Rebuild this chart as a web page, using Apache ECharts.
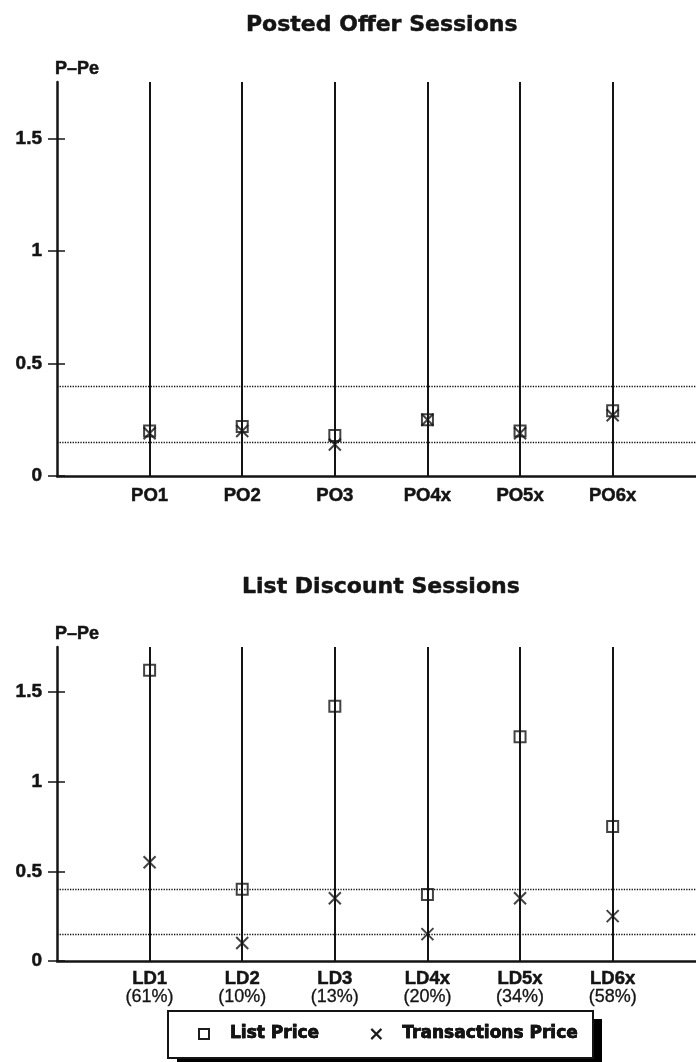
<!DOCTYPE html>
<html>
<head>
<meta charset="utf-8">
<script src="https://cdn.jsdelivr.net/npm/echarts@6/dist/echarts.min.js"></script>
<style>
html,body{margin:0;padding:0;background:#fff;}
#chart{width:696px;height:1062px;}
</style>
</head>
<body>
<div id="chart"></div>
<script>
// ---- data ----
var poCategories = ['PO1', 'PO2', 'PO3', 'PO4x', 'PO5x', 'PO6x'];
var poListPrice = [0.20, 0.22, 0.18, 0.25, 0.20, 0.29];
var poTransPrice = [0.19, 0.20, 0.14, 0.25, 0.19, 0.27];

var ldCategories = ['LD1', 'LD2', 'LD3', 'LD4x', 'LD5x', 'LD6x'];
var ldShares = ['61%', '10%', '13%', '20%', '34%', '58%'];
var ldListPrice = [1.62, 0.40, 1.42, 0.37, 1.25, 0.75];
var ldTransPrice = [0.55, 0.10, 0.35, 0.15, 0.35, 0.25];

var yTicks = [0, 0.5, 1, 1.5];
var yMax = 1.75;
var refLines = [0.15, 0.4];
var titles = ['Posted Offer Sessions', 'List Discount Sessions'];
var yName = 'P–Pe';
var seriesNames = ['List Price', 'Transactions Price'];

// ---- styling ----
var FONT = '"Liberation Sans", Arial, sans-serif';
var WIDE = '"DejaVu Sans", sans-serif';
var INK = '#141414';
var HEAVY = { textBorderColor: INK, textBorderWidth: 0.5 };
var SQUARE = 'path://M0,0H10V10H0Z';
var CROSS = 'path://M0,0L10,10M10,0L0,10';
var xMax = 6.9;

function ext(a, b) { var o = {}; for (var k in a) o[k] = a[k]; for (var j in b) o[j] = b[j]; return o; }
function xPos(arr) { return arr.map(function (c, i) { return i + 1; }); }

function makeXAxis(gridIndex, cats, shares) {
  return {
    type: 'value', gridIndex: gridIndex, min: 0, max: xMax, interval: 1,
    axisLine: { show: true, onZero: false, lineStyle: { color: INK, width: 2.5 } },
    axisTick: { show: false },
    splitLine: { show: false },
    axisLabel: ext(HEAVY, {
      customValues: xPos(cats),
      margin: shares ? 8 : 10,
      formatter: function (v) {
        var i = Math.round(v) - 1;
        if (i < 0 || i >= cats.length) return '';
        return shares ? '{a|' + cats[i] + '}\n{b|(' + shares[i] + ')}' : cats[i];
      },
      color: INK, fontFamily: FONT, fontWeight: 'bold', fontSize: 18.5,
      rich: {
        a: ext(HEAVY, { fontFamily: FONT, fontWeight: 'bold', fontSize: 18.5, lineHeight: 19, color: INK }),
        b: { fontFamily: FONT, fontWeight: 'normal', fontSize: 18, lineHeight: 19, color: INK,
             textBorderColor: INK, textBorderWidth: 0.3 }
      }
    })
  };
}

function makeYAxes(gridIndex) {
  return [{
    type: 'value', gridIndex: gridIndex, min: 0, max: yMax, interval: 0.5,
    name: yName, nameLocation: 'end', nameGap: 4,
    nameTextStyle: ext(HEAVY, { align: 'left', color: INK, fontFamily: FONT, fontWeight: 'bold', fontSize: 18, padding: [0, 0, 0, -2] }),
    axisLine: { show: true, lineStyle: { color: INK, width: 2.5 } },
    axisTick: { show: true, inside: false, length: 9, customValues: yTicks, lineStyle: { color: INK, width: 1.5 } },
    axisLabel: ext(HEAVY, { customValues: yTicks, margin: 15, color: INK, fontFamily: FONT, fontWeight: 'bold', fontSize: 19,
      formatter: function (v) { return String(v); } }),
    splitLine: { show: false }
  }, {
    type: 'value', gridIndex: gridIndex, min: 0, max: yMax, interval: 0.5, position: 'left',
    axisLine: { show: false },
    axisTick: { show: true, inside: true, length: 8, customValues: yTicks, lineStyle: { color: INK, width: 1.5 } },
    axisLabel: { show: false },
    splitLine: { show: false }
  }];
}

function markLines(cats) {
  var vert = xPos(cats).map(function (x) {
    return { xAxis: x, lineStyle: { color: INK, width: 2, type: 'solid' } };
  });
  var hor = refLines.map(function (y) {
    return { yAxis: y, lineStyle: { color: '#111', width: 1.3, type: 'dotted' } };
  });
  return { silent: true, symbol: ['none', 'none'], label: { show: false }, animation: false, data: vert.concat(hor) };
}

function scatter(name, gridIndex, values, isSquare, cats, withLines) {
  var s = {
    name: name, type: 'scatter', xAxisIndex: gridIndex, yAxisIndex: gridIndex * 2,
    symbol: isSquare ? SQUARE : CROSS, symbolKeepAspect: true,
    symbolSize: isSquare ? 11 : 12,
    itemStyle: { color: 'rgba(0,0,0,0)', borderColor: INK, borderWidth: 2 },
    data: values.map(function (v, i) { return [i + 1, v]; }),
    z: 5
  };
  if (withLines) s.markLine = markLines(cats);
  return s;
}

function legendBase(extra) {
  var l = {
    data: seriesNames,
    left: 168, top: 1011,
    orient: 'horizontal',
    itemWidth: 10, itemHeight: 10, itemGap: 51,
    padding: [13, 15, 14, 30],
    selectedMode: false,
    textStyle: ext(HEAVY, { fontFamily: WIDE, fontWeight: 'bold', fontSize: 17, lineHeight: 20, color: INK, padding: [0, 0, 0, 16] })
  };
  for (var k in extra) l[k] = extra[k];
  return l;
}

var chart = echarts.init(document.getElementById('chart'), null, { renderer: 'canvas' });
var option = {
  animation: false,
  backgroundColor: '#fff',
  title: [
    { text: titles[0], left: 246, top: 14, padding: 0,
      textStyle: ext(HEAVY, { fontFamily: WIDE, fontWeight: 'bold', fontSize: 22, color: INK }) },
    { text: titles[1], left: 242, top: 576, padding: 0,
      textStyle: ext(HEAVY, { fontFamily: WIDE, fontWeight: 'bold', fontSize: 22, color: INK }) }
  ],
  grid: [
    { left: 57, right: 0, top: 82, height: 394 },
    { left: 57, right: 0, top: 647, height: 314 }
  ],
  xAxis: [makeXAxis(0, poCategories, null), makeXAxis(1, ldCategories, ldShares)],
  yAxis: makeYAxes(0).concat(makeYAxes(1)),
  legend: [
    legendBase({ z: 4, backgroundColor: '#fff', borderWidth: 0,
      shadowColor: '#000', shadowBlur: 0, shadowOffsetX: 9, shadowOffsetY: 8 }),
    legendBase({ z: 5, backgroundColor: 'transparent', borderColor: INK, borderWidth: 2, borderRadius: 0 })
  ],
  series: [
    scatter(seriesNames[0], 0, poListPrice, true, poCategories, true),
    scatter(seriesNames[1], 0, poTransPrice, false, poCategories, false),
    scatter(seriesNames[0], 1, ldListPrice, true, ldCategories, true),
    scatter(seriesNames[1], 1, ldTransPrice, false, ldCategories, false)
  ]
};
chart.setOption(option);
</script>
</body>
</html>
